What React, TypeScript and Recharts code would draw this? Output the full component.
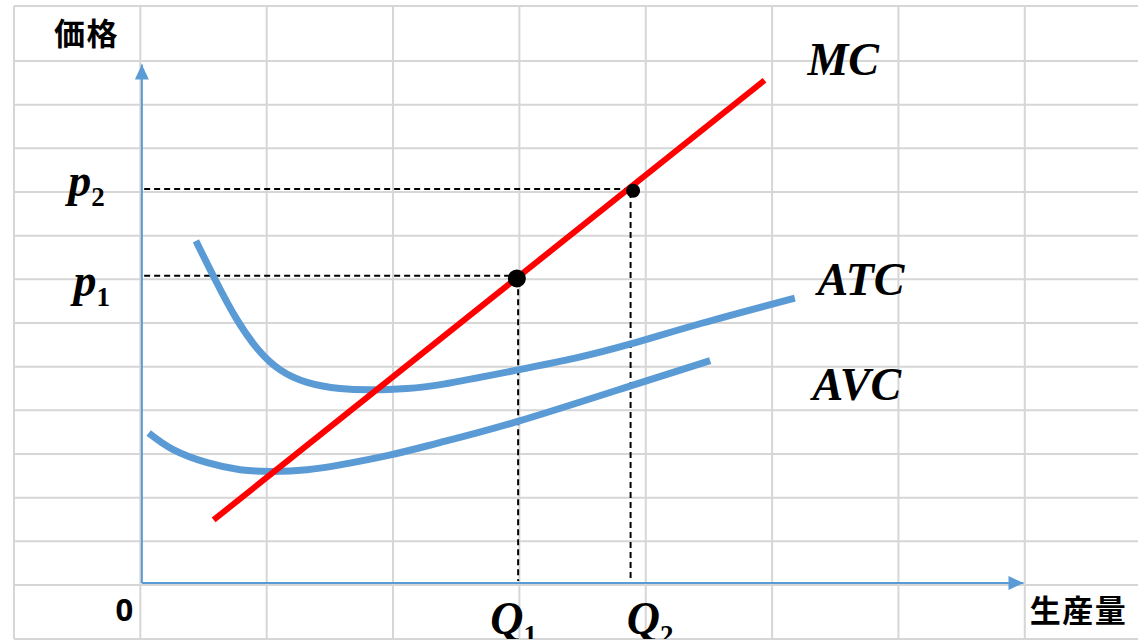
import React from 'react';
import { ComposedChart, Line, Scatter, XAxis, YAxis, ReferenceLine } from 'recharts';

// Spreadsheet-style background grid (data units)
const gridCols = [-1, 0, 1, 2, 3, 4, 5, 6, 7];
const gridRows = [-1.237, 0, 1, 2, 3, 4, 5, 6, 7, 8, 9, 10, 11, 12, 13.26];
const xDomain = [-1, 7.896];
const yDomain = [-1.237, 13.26];

// Cost curves (quantity x, cost y)
const atcPoints = [
  { x: 0.44, y: 7.88 }, { x: 0.6, y: 6.95 }, { x: 0.76, y: 6.1 }, { x: 0.93, y: 5.4 },
  { x: 1.11, y: 4.92 }, { x: 1.32, y: 4.64 }, { x: 1.58, y: 4.5 }, { x: 1.85, y: 4.47 },
  { x: 2.11, y: 4.5 }, { x: 2.4, y: 4.6 }, { x: 2.98, y: 4.92 }, { x: 3.45, y: 5.2 },
  { x: 3.88, y: 5.52 }, { x: 4.45, y: 6.0 }, { x: 5.18, y: 6.57 },
];
const avcPoints = [
  { x: 0.066, y: 3.48 }, { x: 0.26, y: 3.1 }, { x: 0.53, y: 2.8 }, { x: 0.79, y: 2.64 },
  { x: 1.05, y: 2.6 }, { x: 1.32, y: 2.64 }, { x: 1.58, y: 2.75 }, { x: 1.98, y: 2.98 },
  { x: 2.37, y: 3.26 }, { x: 2.98, y: 3.74 }, { x: 3.88, y: 4.56 }, { x: 4.51, y: 5.14 },
];
const mcPoints = [{ x: 0.58, y: 1.49 }, { x: 4.94, y: 11.56 }];

// Axes
const originX = 0.012;
const originY = 0.046;
const priceAxisTop = 11.92;
const qtyAxisEnd = 6.99;
const yAxisLine = [{ x: originX, y: originY }, { x: originX, y: priceAxisTop }];
const xAxisLine = [{ x: originX, y: originY }, { x: qtyAxisEnd, y: originY }];

// Equilibrium prices / quantities
const p1 = 7.08;
const p2 = 9.07;
const q1 = 2.99;
const q2 = 3.88;
const dashStartX = 0.03;
const dashEndY = 0.09;
const point1 = [{ x: 2.98, y: 7.02 }];
const point2 = [{ x: 3.9, y: 9.03 }];
const p1Line = [{ x: dashStartX, y: p1 }, { x: 2.98, y: p1 }];
const p2Line = [{ x: dashStartX, y: p2 }, { x: 3.9, y: p2 }];
const q1Line = [{ x: q1, y: 7.0 }, { x: q1, y: dashEndY }];
const q2Line = [{ x: q2, y: 9.0 }, { x: q2, y: dashEndY }];

// Labels
const curveLabels = [
  { x: 5.28, y: 11.68, text: 'MC' },
  { x: 5.36, y: 6.64, text: 'ATC' },
  { x: 5.32, y: 4.24, text: 'AVC' },
];
const priceLabels = [
  { x: -0.57, y: 8.91, main: 'p', sub: '2' },
  { x: -0.53, y: 6.62, main: 'p', sub: '1' },
];
const qtyLabels = [
  { x: 2.77, y: -1.12, main: 'Q', sub: '1' },
  { x: 3.85, y: -1.12, main: 'Q', sub: '2' },
];
const axisTitles = [
  { x: -0.427, y: 12.37, text: '価格', anchor: 'middle' },
  { x: 7.04, y: -0.85, text: '生産量', anchor: 'start' },
];
const zeroLabel = [{ x: -0.127, y: -0.82, text: '0' }];

const BLUE = '#5B9BD5';
const GRID = '#D6D6D6';
const SERIF = "'Liberation Serif', 'DejaVu Serif', serif";
const CJK = "'Noto Sans CJK JP', 'Noto Sans', sans-serif";

const upArrow = (props: any) => {
  const { cx, cy, index } = props;
  if (index !== 1) return <g key={`ua${index}`} />;
  return <polygon key="ua" points={`${cx},${cy} ${cx - 7},${cy + 15} ${cx + 7},${cy + 15}`} fill={BLUE} />;
};
const rightArrow = (props: any) => {
  const { cx, cy, index } = props;
  if (index !== 1) return <g key={`ra${index}`} />;
  return <polygon key="ra" points={`${cx},${cy} ${cx - 15},${cy - 7} ${cx - 15},${cy + 7}`} fill={BLUE} />;
};

const dotShape = (r: number) => (props: any) => <circle cx={props.cx} cy={props.cy} r={r} fill="#000" />;

const curveLabelShape = (props: any) => (
  <text x={props.cx} y={props.cy} fontFamily={SERIF} fontStyle="italic" fontWeight="bold" fontSize={46} fill="#000">
    {props.payload.text}
  </text>
);
const subLabelShape = (props: any) => (
  <text x={props.cx} y={props.cy} fontFamily={SERIF} fontWeight="bold" fill="#000">
    <tspan fontStyle="italic" fontSize={46}>{props.payload.main}</tspan>
    <tspan fontSize={27} dy={10}>{props.payload.sub}</tspan>
  </text>
);
const titleShape = (props: any) => (
  <text x={props.cx} y={props.cy} fontFamily={CJK} fontWeight="bold" fontSize={31} letterSpacing={1.5}
    textAnchor={props.payload.anchor} fill="#000">
    {props.payload.text}
  </text>
);
const zeroShape = (props: any) => (
  <text x={props.cx} y={props.cy} fontFamily="'Noto Sans', sans-serif" fontWeight="bold" fontSize={31}
    textAnchor="middle" fill="#000">
    {props.payload.text}
  </text>
);

export default function App() {
  return (
    <div style={{ position: 'absolute', left: 0, top: 0, width: 1138, height: 640, background: '#fff' }}>
      <ComposedChart width={1138} height={640} margin={{ top: 6, right: 0, bottom: 1, left: 14 }}>
        <XAxis type="number" dataKey="x" domain={xDomain} ticks={gridCols} allowDataOverflow interval={0}
          tick={false} tickLine={false} axisLine={false} height={0} />
        <YAxis type="number" dataKey="y" domain={yDomain} ticks={gridRows} allowDataOverflow interval={0}
          tick={false} tickLine={false} axisLine={false} width={0} />

        {gridCols.map((v) => (
          <ReferenceLine key={`gc${v}`} x={v} stroke={GRID} strokeWidth={2} ifOverflow="visible" />
        ))}
        {gridRows.map((v) => (
          <ReferenceLine key={`gr${v}`} y={v} stroke={GRID} strokeWidth={2} ifOverflow="visible" />
        ))}

        <Line data={yAxisLine} dataKey="y" type="linear" stroke={BLUE} strokeWidth={2}
          dot={upArrow} activeDot={false} isAnimationActive={false} legendType="none" />
        <Line data={xAxisLine} dataKey="y" type="linear" stroke={BLUE} strokeWidth={2}
          dot={rightArrow} activeDot={false} isAnimationActive={false} legendType="none" />

        <Line data={p1Line} dataKey="y" type="linear" stroke="#000" strokeWidth={2} strokeDasharray="6 4"
          dot={false} activeDot={false} isAnimationActive={false} />
        <Line data={p2Line} dataKey="y" type="linear" stroke="#000" strokeWidth={2} strokeDasharray="6 4"
          dot={false} activeDot={false} isAnimationActive={false} />
        <Line data={q1Line} dataKey="y" type="linear" stroke="#000" strokeWidth={2} strokeDasharray="6 4"
          dot={false} activeDot={false} isAnimationActive={false} />
        <Line data={q2Line} dataKey="y" type="linear" stroke="#000" strokeWidth={2} strokeDasharray="6 4"
          dot={false} activeDot={false} isAnimationActive={false} />

        <Line data={atcPoints} dataKey="y" type="natural" stroke={BLUE} strokeWidth={7}
          dot={false} activeDot={false} isAnimationActive={false} />
        <Line data={avcPoints} dataKey="y" type="natural" stroke={BLUE} strokeWidth={7}
          dot={false} activeDot={false} isAnimationActive={false} />
        <Line data={mcPoints} dataKey="y" type="linear" stroke="#FF0000" strokeWidth={6}
          dot={false} activeDot={false} isAnimationActive={false} />

        <Scatter data={point1} shape={dotShape(9)} isAnimationActive={false} />
        <Scatter data={point2} shape={dotShape(7)} isAnimationActive={false} />

        <Scatter data={curveLabels} shape={curveLabelShape} isAnimationActive={false} />
        <Scatter data={priceLabels} shape={subLabelShape} isAnimationActive={false} />
        <Scatter data={qtyLabels} shape={subLabelShape} isAnimationActive={false} />
        <Scatter data={axisTitles} shape={titleShape} isAnimationActive={false} />
        <Scatter data={zeroLabel} shape={zeroShape} isAnimationActive={false} />
      </ComposedChart>
    </div>
  );
}
